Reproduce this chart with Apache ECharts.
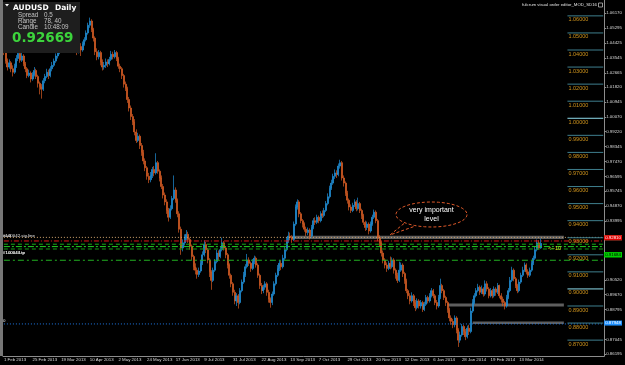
<!DOCTYPE html>
<html><head><meta charset="utf-8">
<script src="https://cdn.jsdelivr.net/npm/echarts@6/dist/echarts.min.js"></script>
<style>html,body{margin:0;padding:0;background:#000;overflow:hidden}#c{width:625px;height:365px}</style>
</head><body><div id="c"></div>
<script>
// AUDUSD daily candles, prices x 10000
const opens = [
10420,10390,10335,10300,10325,10290,10270,10305,10350,10380,
10340,10365,10320,10290,10250,10265,10230,10255,10280,10245,
10205,10185,10170,10220,10245,10270,10250,10290,10310,10335,
10365,10390,10410,10420,10445,10430,10460,10475,10440,10410,
10425,10410,10395,10420,10400,10435,10460,10500,10545,10570,
10520,10470,10390,10360,10385,10330,10300,10310,10330,10320,
10345,10375,10360,10385,10350,10305,10290,10250,10200,10175,
10110,10060,10010,9980,9920,9870,9895,9840,9800,9750,
9710,9660,9640,9665,9700,9680,9740,9690,9650,9600,
9550,9510,9460,9420,9470,9530,9580,9520,9440,9350,
9240,9270,9300,9320,9290,9250,9190,9130,9110,9085,
9105,9150,9200,9260,9230,9170,9100,9050,9110,9160,
9210,9190,9230,9270,9240,9200,9140,9080,9030,8980,
8930,8960,8920,8990,9040,9080,9130,9170,9150,9120,
9160,9180,9140,9080,9020,8990,9010,9030,8980,8940,
8920,8970,9030,9080,9120,9150,9130,9180,9230,9280,
9310,9300,9290,9380,9480,9510,9440,9400,9380,9350,
9330,9345,9310,9360,9400,9390,9420,9400,9440,9430,
9460,9500,9540,9590,9620,9660,9680,9670,9720,9740,
9650,9620,9560,9520,9480,9460,9490,9510,9470,9500,
9460,9430,9390,9360,9380,9340,9380,9420,9450,9400,
9300,9270,9210,9170,9140,9120,9150,9130,9170,9110,
9080,9050,9110,9140,9090,9050,8990,8960,8930,8960,
8920,8890,8930,8900,8920,8880,8910,8950,8930,8960,
8990,8960,8920,8900,8950,9020,8990,8950,8920,8880,
8830,8810,8790,8830,8760,8700,8730,8780,8750,8720,
8770,8750,8870,8920,8960,8990,9010,8980,9000,8970,
9030,9000,8960,8990,8960,9000,8980,9020,8960,8940,
8920,8900,8950,8990,9050,9110,9060,9020,8990,9040,
9080,9110,9140,9100,9080,9110,9150,9180,9230,9270,
9240];
const closes = [
10390,10335,10300,10325,10290,10270,10305,10350,10380,10340,
10365,10320,10290,10250,10265,10230,10255,10280,10245,10205,
10185,10170,10220,10245,10270,10250,10290,10310,10335,10365,
10390,10410,10420,10445,10430,10460,10475,10440,10410,10425,
10410,10395,10420,10400,10435,10460,10500,10545,10570,10520,
10470,10390,10360,10385,10330,10300,10310,10330,10320,10345,
10375,10360,10385,10350,10305,10290,10250,10200,10175,10110,
10060,10010,9980,9920,9870,9895,9840,9800,9750,9710,
9660,9640,9665,9700,9680,9740,9690,9650,9600,9550,
9510,9460,9420,9470,9530,9580,9520,9440,9350,9240,
9270,9300,9320,9290,9250,9190,9130,9110,9085,9105,
9150,9200,9260,9230,9170,9100,9050,9110,9160,9210,
9190,9230,9270,9240,9200,9140,9080,9030,8980,8930,
8960,8920,8990,9040,9080,9130,9170,9150,9120,9160,
9180,9140,9080,9020,8990,9010,9030,8980,8940,8920,
8970,9030,9080,9120,9150,9130,9180,9230,9280,9310,
9300,9290,9380,9480,9510,9440,9400,9380,9350,9330,
9345,9310,9360,9400,9390,9420,9400,9440,9430,9460,
9500,9540,9590,9620,9660,9680,9670,9720,9740,9650,
9620,9560,9520,9480,9460,9490,9510,9470,9500,9460,
9430,9390,9360,9380,9340,9380,9420,9450,9400,9300,
9270,9210,9170,9140,9120,9150,9130,9170,9110,9080,
9050,9110,9140,9090,9050,8990,8960,8930,8960,8920,
8890,8930,8900,8920,8880,8910,8950,8930,8960,8990,
8960,8920,8900,8950,9020,8990,8950,8920,8880,8830,
8810,8790,8830,8760,8700,8730,8780,8750,8720,8770,
8750,8870,8920,8960,8990,9010,8980,9000,8970,9030,
9000,8960,8990,8960,9000,8980,9020,8960,8940,8920,
8900,8950,8990,9050,9110,9060,9020,8990,9040,9080,
9110,9140,9100,9080,9110,9150,9180,9230,9270,9240,
9267];
const highs = [
10440,10405,10350,10345,10335,10310,10320,10370,10400,10390,
10385,10375,10330,10300,10285,10275,10270,10300,10290,10255,
10215,10200,10235,10260,10290,10285,10305,10330,10350,10380,
10405,10430,10445,10465,10460,10475,10495,10485,10455,10440,
10435,10420,10435,10440,10450,10475,10515,10560,10590,10580,
10530,10480,10410,10400,10395,10345,10330,10350,10345,10360,
10395,10390,10400,10395,10360,10320,10300,10260,10215,10185,
10125,10075,10025,9995,9935,9915,9905,9855,9815,9765,
9720,9680,9685,9715,9720,9795,9750,9700,9665,9615,
9565,9525,9475,9490,9545,9665,9595,9530,9455,9365,
9290,9320,9345,9335,9300,9260,9200,9150,9125,9125,
9170,9220,9285,9275,9240,9180,9110,9125,9175,9230,
9225,9250,9300,9280,9250,9210,9150,9090,9040,8995,
8975,8970,9005,9055,9100,9145,9205,9185,9160,9175,
9195,9190,9150,9090,9035,9025,9045,9040,8995,8950,
8985,9045,9095,9140,9170,9165,9200,9245,9300,9335,
9330,9315,9395,9495,9525,9520,9450,9410,9390,9365,
9360,9355,9375,9415,9420,9435,9430,9455,9460,9475,
9515,9560,9605,9640,9675,9700,9695,9735,9757,9750,
9665,9630,9575,9530,9495,9505,9525,9520,9535,9510,
9470,9440,9400,9395,9390,9395,9435,9465,9460,9410,
9315,9280,9225,9180,9155,9165,9190,9185,9180,9120,
9095,9160,9155,9150,9100,9060,9000,8975,8980,8970,
8935,8945,8940,8935,8930,8925,8965,8960,8975,9005,
9000,8970,8935,8965,9060,9030,9000,8960,8930,8890,
8845,8825,8845,8840,8770,8750,8795,8790,8765,8785,
8790,8890,8940,8975,9005,9030,9020,9020,9010,9050,
9045,9010,9005,9000,9015,9010,9035,9025,8975,8955,
8930,8965,9005,9070,9130,9120,9070,9030,9055,9095,
9130,9155,9150,9115,9125,9165,9195,9250,9290,9285,
9295];
const lows = [
10370,10320,10280,10290,10270,10245,10260,10295,10335,10325,
10330,10305,10270,10235,10240,10210,10220,10245,10230,10180,
10140,10115,10160,10205,10235,10230,10240,10275,10300,10325,
10350,10375,10395,10410,10415,10420,10445,10425,10395,10390,
10385,10370,10380,10365,10390,10425,10450,10490,10530,10505,
10450,10370,10340,10345,10310,10280,10285,10295,10300,10310,
10335,10345,10350,10335,10290,10270,10230,10180,10160,10090,
10040,9990,9960,9900,9855,9860,9820,9780,9730,9690,
9640,9620,9625,9650,9660,9670,9675,9630,9585,9530,
9490,9440,9395,9410,9460,9520,9505,9420,9330,9200,
9220,9255,9285,9270,9230,9170,9110,9085,9060,9070,
9095,9140,9190,9210,9150,9070,8995,9040,9100,9150,
9170,9180,9220,9225,9180,9120,9060,9010,8960,8910,
8900,8885,8910,8980,9030,9070,9120,9135,9100,9110,
9145,9125,9065,9000,8970,8975,8995,8960,8920,8890,
8905,8960,9020,9070,9105,9110,9120,9170,9220,9270,
9285,9270,9280,9370,9465,9420,9385,9360,9335,9310,
9315,9290,9300,9350,9375,9380,9385,9390,9415,9420,
9450,9490,9530,9580,9610,9645,9650,9660,9705,9635,
9600,9545,9500,9460,9445,9450,9480,9455,9460,9445,
9410,9375,9340,9345,9320,9330,9370,9410,9385,9280,
9250,9190,9150,9120,9100,9110,9115,9120,9090,9060,
9035,9040,9100,9070,9030,8975,8940,8910,8920,8900,
8870,8880,8885,8885,8865,8870,8900,8915,8920,8950,
8945,8905,8880,8890,8940,8975,8935,8900,8860,8810,
8790,8770,8775,8740,8660,8685,8720,8730,8700,8710,
8730,8740,8860,8910,8950,8980,8965,8970,8955,8960,
8985,8945,8950,8945,8950,8960,8970,8945,8920,8900,
8880,8890,8940,8980,9040,9045,9005,8975,8980,9030,
9070,9100,9085,9065,9070,9100,9140,9170,9220,9230,
9235];

// right price-axis tick labels
const priceTicks = [1.06170,1.05295,1.04425,1.03545,1.02665,1.01820,1.00945,1.00070,
  0.99220,0.98345,0.97470,0.96595,0.95745,0.94870,0.93995,0.90520,0.89670,0.88795,0.87045,0.86195];
// round-number level objects (right side)
const roundLevels = [1.06,1.05,1.04,1.03,1.02,1.01,1.00,0.99,0.98,0.97,0.96,0.95,0.94,0.93,0.92,0.91,0.90,0.89,0.88,0.87];
// horizontal order/level lines and their left-side captions
const hLevels = [0.9302, 0.9281, 0.9262, 0.9248, 0.9234, 0.9168, 0.87948];
const hCaptions = ['w=0', '#100042.sig.line', '', '#100043.tp', '', '#100044.tp', '0'];
// price tags on the right axis
const tagValues = [0.93026, 0.92810, 0.92475, 0.91684, 0.87948];
// gray rectangles: [startBar, endBar, lowPrice, highPrice]
const bands = [[161, 313, 0.9293, 0.9311], [248, 313, 0.8897, 0.8915], [262, 313, 0.8794, 0.8809]];
const lastPrice = '0.92669';

// trading-day categories
const MON = ['Jan','Feb','Mar','Apr','May','Jun','Jul','Aug','Sep','Oct','Nov','Dec'];
const holidays = ['2013-12-25'];
const dates = [];
for (let t = Date.UTC(2013,1,1); dates.length < 336; t += 86400000) {
  const d = new Date(t), wd = d.getUTCDay();
  if (wd === 0 || wd === 6) continue;
  if (holidays.includes(d.toISOString().slice(0,10))) continue;
  dates.push(d.getUTCDate() + ' ' + MON[d.getUTCMonth()] + ' ' + d.getUTCFullYear());
}
const lastBar = closes.length - 1;
const lastCat = dates.length - 1;
const P = v => v / 10000;
const candleData = opens.map((o, i) => [P(o), P(closes[i]), P(lows[i]), P(highs[i])]);
const showIdx = i => i % 16 === 0 && i <= lastBar;

const FONT = 'Liberation Sans';
const lineStyles = [
  {color:'#d2a46e', type:[1,2], width:1},
  {color:'#e01818', type:[5,2,1,2], width:1},
  {color:'#17b017', type:[4,3], width:1},
  {color:'#22d022', type:[6,2,2,2], width:1},
  {color:'#149a14', type:[4,3], width:1},
  {color:'#22b022', type:[6,3,2,3], width:1},
  {color:'#1e78e6', type:[1,2], width:1}
];
const tagStyles = [
  {bg:'#f0a878', fg:'#000'}, {bg:'#e00000', fg:'#fff'}, {bg:'#00e000', fg:'#000'},
  {bg:'#00d000', fg:'#000'}, {bg:'#1e90ff', fg:'#fff'}
];
const clearLine = {color:'rgba(0,0,0,0)', width:0};

const overlaySeries = [];
// gray rectangles
overlaySeries.push({type:'line', data:[], silent:true, z:1,
  markArea:{silent:true, itemStyle:{color:'#5e5e5e'},
    data: bands.map(b => [{coord:[b[0], b[3]]}, {coord:[b[1], b[2]]}])}});
// full-width order lines (drawn as two-point line series) + caption
hLevels.forEach((v, k) => {
  overlaySeries.push({type:'line', silent:true, symbol:'none', z:4,
    data:[[0, v], [lastCat, v]],
    lineStyle: lineStyles[k], itemStyle:{color: lineStyles[k].color},
    markLine: hCaptions[k] ? {silent:true, symbol:['none','none'], animation:false, lineStyle: clearLine,
      label:{show:true, position:'insideStartTop', distance:0, formatter: hCaptions[k],
        color:'#e8e8e8', fontSize:4.4, fontFamily: FONT},
      data:[{yAxis: v}]} : undefined});
});
// round-number levels at the right
roundLevels.forEach(v => {
  const bright = Math.abs(v - 1.0) < 1e-9 || Math.abs(v - 0.9) < 1e-9;
  const c = bright ? '#8fdcec' : '#3f7f8e';
  overlaySeries.push({type:'line', silent:true, symbol:'none', z:4,
    data:[[315, v], [lastCat, v]],
    lineStyle:{color:c, type:'solid', width:1}, itemStyle:{color:c},
    markLine:{silent:true, symbol:['none','none'], animation:false, lineStyle: clearLine,
      label:{show:true, position:'insideStartBottom', distance:1, formatter: v.toFixed(5),
        color:'#d0941c', fontSize:5.5, fontFamily: FONT},
      data:[[{coord:[315, v]}, {coord:[lastCat, v]}]]}});
});
// price tags on the axis
tagValues.forEach((v, k) => {
  overlaySeries.push({type:'line', data:[], silent:true, z:6,
    markLine:{silent:true, symbol:['none','none'], animation:false, lineStyle: clearLine,
      label:{show:true, position:'end', distance:0, formatter: v.toFixed(5),
        backgroundColor: tagStyles[k].bg, color: tagStyles[k].fg, fontSize:4.4, fontFamily: FONT,
        padding:[1,1,0,1]},
      data:[{yAxis: v}]}});
});

// callout ellipse outline
const ell = [];
for (let a = 0; a <= 64; a++) {
  const t = a / 64 * Math.PI * 2;
  ell.push([431.5 + 35.5 * Math.cos(t), 214.5 + 12.5 * Math.sin(t)]);
}

const chart = echarts.init(document.getElementById('c'), null, {renderer:'canvas'});
chart.setOption({
  backgroundColor:'#000',
  animation:false,
  grid:{left:3, right:20, top:0, bottom:9},
  xAxis:{type:'category', data:dates, boundaryGap:true,
    axisLine:{lineStyle:{color:'#8c8c8c'}},
    axisTick:{alignWithLabel:true, interval:(i)=>showIdx(i), length:2, lineStyle:{color:'#8c8c8c'}},
    axisLabel:{interval:(i)=>showIdx(i), align:'left', color:'#d8d8d8', fontSize:4.4, margin:2, fontFamily:FONT},
    splitLine:{show:false}},
  yAxis:{type:'value', position:'right', min:0.8607, max:1.0693,
    splitLine:{show:false},
    axisLine:{show:true, lineStyle:{color:'#8c8c8c'}},
    axisTick:{show:true, customValues:priceTicks, length:2, lineStyle:{color:'#8c8c8c'}},
    axisLabel:{customValues:priceTicks, formatter:(v)=>v.toFixed(5), color:'#d8d8d8', fontSize:4.4, margin:2, fontFamily:FONT}},
  series:[{
    type:'candlestick', data:candleData, barWidth:1.5, z:3,
    itemStyle:{color:'#2aa3ec', color0:'#f07232', borderColor:'#1f8fd8', borderColor0:'#d65a22', borderWidth:0.7}
  }].concat(overlaySeries),
  graphic:[
    {type:'rect', shape:{x:0,y:0,width:3,height:356}, style:{fill:'#767676'}, z:100},
    {type:'rect', shape:{x:3,y:2,width:77,height:51}, style:{fill:'#1e1e1e'}, z:100},
    {type:'polygon', shape:{points:[[5,4],[9,4],[7,6.5]]}, style:{fill:'#fff'}, z:101},
    {type:'text', x:13, y:4, style:{text:'AUDUSD', font:'bold 7.5px "DejaVu Sans"', fill:'#fff', verticalAlign:'top'}, z:101},
    {type:'text', x:55, y:4, style:{text:'Daily', font:'bold 7.5px "DejaVu Sans"', fill:'#fff', verticalAlign:'top'}, z:101},
    {type:'text', x:18, y:12.5, style:{text:'Spread', font:'6.3px "Liberation Sans"', fill:'#c4c4c4', verticalAlign:'top'}, z:101},
    {type:'text', x:44, y:12.5, style:{text:'0.5', font:'6.3px "Liberation Sans"', fill:'#c4c4c4', verticalAlign:'top'}, z:101},
    {type:'text', x:18, y:18.5, style:{text:'Range', font:'6.3px "Liberation Sans"', fill:'#c4c4c4', verticalAlign:'top'}, z:101},
    {type:'text', x:44, y:18.5, style:{text:'78, 40', font:'6.3px "Liberation Sans"', fill:'#c4c4c4', verticalAlign:'top'}, z:101},
    {type:'text', x:18, y:24.5, style:{text:'Candle', font:'6.3px "Liberation Sans"', fill:'#c4c4c4', verticalAlign:'top'}, z:101},
    {type:'text', x:44, y:24.5, style:{text:'10:48:09', font:'6.3px "Liberation Sans"', fill:'#c4c4c4', verticalAlign:'top'}, z:101},
    {type:'text', x:12, y:31.5, style:{text:lastPrice, font:'bold 13.5px "DejaVu Sans"', fill:'#3cd43c', verticalAlign:'top'}, z:101},
    {type:'text', x:597, y:5, style:{text:'fulcrum visual order editor_MOD_SD16', font:'4.3px "Liberation Sans"', fill:'#e0e0e0', align:'right', verticalAlign:'middle'}, z:101},
    {type:'rect', shape:{x:598.5,y:3,width:4,height:4}, style:{fill:'none', stroke:'#d0d0d0', lineWidth:0.7}, z:101},
    {type:'polyline', shape:{points:ell}, style:{stroke:'#e05a2a', fill:'none', lineWidth:1, lineDash:[3,2]}, z:101},
    {type:'polyline', shape:{points:[[404,223.5],[390,235],[414,226.5]]}, style:{stroke:'#e05a2a', fill:'none', lineWidth:1, lineDash:[3,2]}, z:101},
    {type:'text', x:431.5, y:210.5, style:{text:'very important', font:'7px "Liberation Sans"', fill:'#fff', align:'center', verticalAlign:'middle'}, z:101},
    {type:'text', x:431.5, y:219.5, style:{text:'level', font:'7px "Liberation Sans"', fill:'#fff', align:'center', verticalAlign:'middle'}, z:101},
    {type:'text', x:548, y:248.5, style:{text:'<--10', font:'5.5px "Liberation Sans"', fill:'#d8d820', verticalAlign:'middle'}, z:101}
  ]
});
</script>
</body></html>
